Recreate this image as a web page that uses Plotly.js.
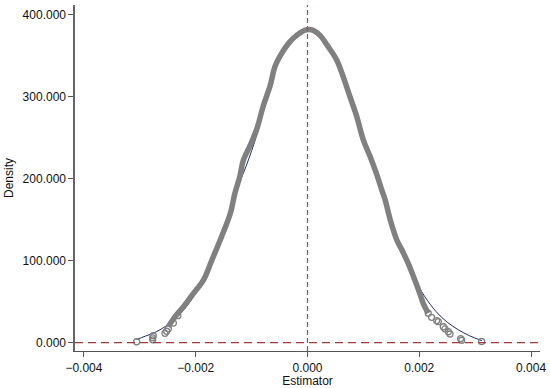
<!DOCTYPE html>
<html>
<head>
<meta charset="utf-8">
<script src="https://cdn.plot.ly/plotly-3.0.1.min.js"></script>
<style>html,body{margin:0;padding:0;background:#fff;}#chart{width:550px;height:388px;}</style>
</head>
<body>
<div id="chart"></div>
<script>
// Kernel density of the estimator (thick grey curve)
var densX = [-0.00249, -0.00237, -0.00222, -0.00204, -0.00186, -0.00171, -0.00154, -0.00138, -0.00130, -0.00121, -0.00115, -0.00103, -0.00091, -0.00079, -0.00067, -0.00058, -0.00046, -0.00034, -0.00019, -0.00005, 0.00003, 0.00010, 0.00022, 0.00037, 0.00052, 0.00064, 0.00076, 0.00088, 0.00100, 0.00112, 0.00124, 0.00133, 0.00139, 0.00148, 0.00160, 0.00169, 0.00180, 0.00192, 0.00201, 0.00207, 0.00216];
var densY = [19.5, 31.7, 43.9, 60.2, 76.5, 100.9, 129, 157.8, 182, 203, 222, 240, 260, 289, 313, 337, 353, 365, 375, 381, 382, 381, 375, 361, 345, 324, 300, 276, 247, 227, 205, 186, 174, 150, 125, 113, 97, 76.5, 60, 48, 36];
// Isolated hollow circles in the tails
var tailX = [-0.003056, -0.00277, -0.00277, -0.00276, -0.00255, -0.00252, -0.00249, -0.00240, -0.00232, 0.00216, 0.00222, 0.00231, 0.00234, 0.00243, 0.00246, 0.00252, 0.00255, 0.00274, 0.00276, 0.003116];
var tailY = [1.2, 3.5, 6, 8.5, 11.5, 14, 17, 24, 33, 36, 31, 27, 25.6, 19.5, 17, 13.4, 10.6, 4.9, 3, 1.5];
// Normal density reference line (navy)
var normX = [-0.00306, -0.0029, -0.0027, -0.0025, -0.0023, -0.0021, -0.0019, -0.0017, -0.0015, -0.0013, -0.0011, -0.0009, -0.0007, -0.0005, -0.0003, -0.0001, 0.0001, 0.0003, 0.0005, 0.0007, 0.0009, 0.0011, 0.0013, 0.0015, 0.0017, 0.0019, 0.0021, 0.0023, 0.0025, 0.0027, 0.0029, 0.00312];
var normY = [4, 8, 13.6, 21.8, 33.6, 50, 72, 100, 134, 181, 215, 255, 306, 345, 365, 378, 380, 369, 347, 312, 272, 230, 190, 146, 108, 79, 56, 38, 25, 15.7, 8.5, 2.5];
var yTicks = [0, 100, 200, 300, 400];
var xTicks = [-0.004, -0.002, 0, 0.002, 0.004];
var refX = 0;
var refY = 0;

var font = {family: 'Liberation Sans, Arial, Helvetica, sans-serif', size: 12, color: '#111'};

var traces = [
  {x: normX, y: normY, mode: 'lines', line: {color: '#1f2a6e', width: 1, shape: 'spline'}, hoverinfo: 'skip'},
  {x: densX, y: densY, mode: 'lines', line: {color: '#808080', width: 5.5, shape: 'spline'}, hoverinfo: 'skip'},
  {x: tailX, y: tailY, mode: 'markers', marker: {symbol: 'circle-open', size: 6, color: '#808080', line: {width: 1.3, color: '#808080'}}, hoverinfo: 'skip'}
];

var layout = {
  width: 550, height: 388,
  margin: {l: 75, r: 10, t: 5, b: 37},
  paper_bgcolor: '#fff', plot_bgcolor: '#fff',
  showlegend: false,
  font: font,
  xaxis: {
    range: [-0.00416, 0.00416], tickvals: xTicks, tickformat: '.3f',
    showgrid: false, zeroline: false, showline: true, linecolor: '#555', linewidth: 1.3,
    ticks: 'outside', ticklen: 5, tickcolor: '#555', tickwidth: 1,
    title: {text: 'Estimator', font: font, standoff: 0},
    automargin: false
  },
  yaxis: {
    range: [-10.1, 411.8], tickvals: yTicks, tickformat: '.3f',
    showgrid: false, zeroline: false, showline: true, linecolor: '#666', linewidth: 1.6,
    ticks: 'outside', ticklen: 5, tickcolor: '#555', tickwidth: 1,
    title: {text: 'Density', font: font, standoff: 6},
    automargin: false
  },
  shapes: [
    {type: 'line', xref: 'x', yref: 'paper', x0: refX, x1: refX, y0: 0, y1: 1,
     line: {color: '#cc3366', width: 1.2, dash: '5px,3px'}},
    {type: 'line', xref: 'paper', yref: 'y', x0: 0, x1: 1, y0: refY, y1: refY,
     line: {color: '#9e3b3b', width: 1.2, dash: '8px,5px'}}
  ]
};

Plotly.newPlot('chart', traces, layout, {displayModeBar: false, staticPlot: true});
</script>
</body>
</html>
